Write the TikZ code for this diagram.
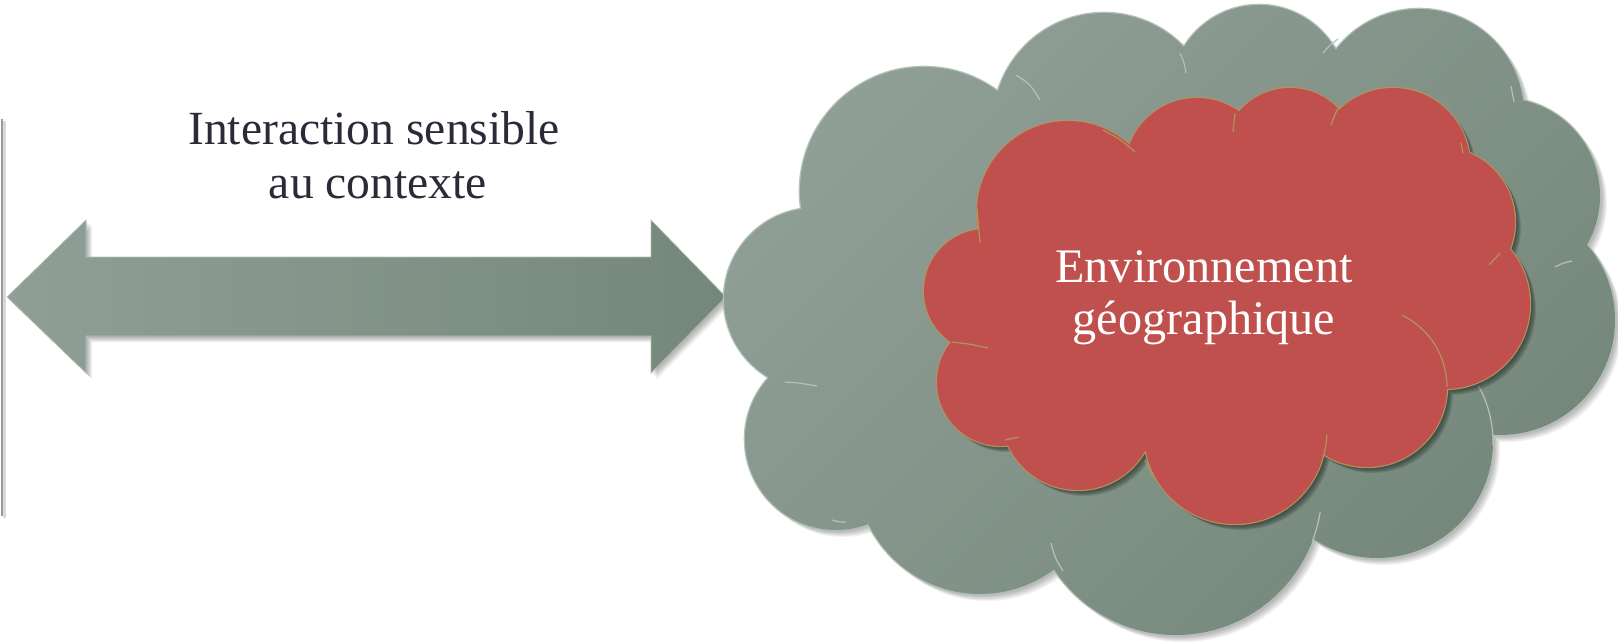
\documentclass[tikz,border=0pt]{standalone}
\usepackage{fontspec}
\setmainfont{Liberation Serif}
\definecolor{gA}{HTML}{909F96}
\definecolor{gB}{HTML}{75877B}
\definecolor{gline}{HTML}{B3C1B8}
\definecolor{redc}{HTML}{C0504D}
\definecolor{redline}{HTML}{B0935F}
\definecolor{txtc}{HTML}{2A2A38}
\definecolor{edgec}{HTML}{9A9A9A}
\definecolor{shadc}{HTML}{1E2A22}
\tikzset{
  toptext/.style={font=\fontsize{47.6}{54}\selectfont, text=txtc, inner sep=0pt, anchor=base},
  cloudtext/.style={font=\fontsize{48.2}{52}\selectfont, text=white, inner sep=0pt, anchor=base},
  ginner/.style={draw=gline, line width=1.2pt},
  rinner/.style={draw=redline, line width=1.2pt},
}
\def\arrowpath{(7,297) -- (86,220) -- (86,257) -- (651,257) -- (651,220) -- (726,297) -- (651,373) -- (651,336) -- (86,336) -- (86,373) -- cycle}
\def\outerlobes{(815,299) circle[radius=91] (836,439) circle[radius=91] (980,470) circle[radius=124] (1176,489) circle[radius=146] (1377,442) circle[radius=116] (1500,320) circle[radius=115] (1502,196) circle[radius=98] (1419,114) circle[radius=105] (1259,93) circle[radius=88] (1104,124) circle[radius=111] (924,191) circle[radius=124]}
\def\outercore{(1160,320) ellipse[x radius=380, y radius=230]}
\def\redlobes{(1068,212) circle[radius=91] (1197,170) circle[radius=72] (1290,155) circle[radius=67] (1393,165) circle[radius=77] (1440,222) circle[radius=75] (1445,304) circle[radius=85] (1367,387) circle[radius=80] (1235,433) circle[radius=91] (1078,413) circle[radius=77] (1001,382) circle[radius=64] (986,291) circle[radius=62]}
\def\redcore{(1200,300) ellipse[x radius=250, y radius=140]}
\begin{document}
\begin{tikzpicture}[x=1pt,y=-1pt]
\useasboundingbox (0,0) rectangle (1618,641);
% left edge line
\fill[black!15] (3,121) rectangle (6,518);
\draw[edgec, line width=2pt] (2,119) -- (2,516);
% double arrow
\foreach \k in {1,...,6}{\fill[black, opacity=0.06, shift={(\k,\k)}] \arrowpath;}
\shade[left color=gA, right color=gB] \arrowpath;
\draw[gline, line width=0.7pt] \arrowpath;
% outer cloud
\foreach \k in {1,...,7}{\fill[black, opacity=0.05, shift={(\k,\k)}] \outerlobes \outercore;}
\draw[gline, line width=2.6pt] \outerlobes;
\shade[top color=gA, bottom color=gB, shading angle=45] \outerlobes \outercore;
\draw[ginner] (1016,75) .. controls (1030,84) .. (1040,100);
\draw[ginner] (1180,53) .. controls (1184,62) .. (1186,73);
\draw[ginner] (1323,53) .. controls (1330,45) .. (1338,39);
\draw[ginner] (1511,86) .. controls (1513,94) .. (1514,102);
\draw[ginner] (1572,261) .. controls (1563,263) .. (1555,267);
\draw[ginner] (1377,442) ++(-29:116) arc[start angle=-29, end angle=1.5, radius=116];
\draw[ginner] (1176,489) ++(9:146) arc[start angle=9, end angle=21, radius=146];
\draw[ginner] (1051,543) .. controls (1055,558) .. (1063,571);
\draw[ginner] (832,520) .. controls (839,522) .. (846,522);
\draw[ginner] (785,382) .. controls (800,383) .. (817,386);
% red cloud
\foreach \k in {1,...,6}{\fill[shadc, opacity=0.16, shift={(\k,\k)}] \redlobes \redcore;}
\draw[redline, line width=2.4pt] \redlobes;
\fill[redc] \redlobes \redcore;
\draw[rinner] (1103,130) .. controls (1120,139) .. (1135,152);
\draw[rinner] (1235,113) .. controls (1234,122) .. (1233,132);
\draw[rinner] (1331,125) .. controls (1335,114) .. (1340,105);
\draw[rinner] (1461,143) .. controls (1462,148) .. (1463,153);
\draw[rinner] (1489,265) .. controls (1495,259) .. (1500,253);
\draw[rinner] (1367,387) ++(-64:80) arc[start angle=-64, end angle=0, radius=80];
\draw[rinner] (1327,435) .. controls (1326,446) .. (1323,457);
\draw[rinner] (1145,460) .. controls (1149,469) .. (1153,477);
\draw[rinner] (1005,440) .. controls (1012,438) .. (1019,437);
\draw[rinner] (952,342) .. controls (970,344) .. (988,348);
\draw[rinner] (977,208) .. controls (978,226) .. (980,243);
% texts
\node[toptext] (t1) at (374,144) {Interaction sensible};
\node[toptext] (t2) at (378,198) {au contexte};
\node[cloudtext] (c1) at (1204,282) {Environnement};
\node[cloudtext] (c2) at (1204,334) {géographique};
\end{tikzpicture}
\end{document}
